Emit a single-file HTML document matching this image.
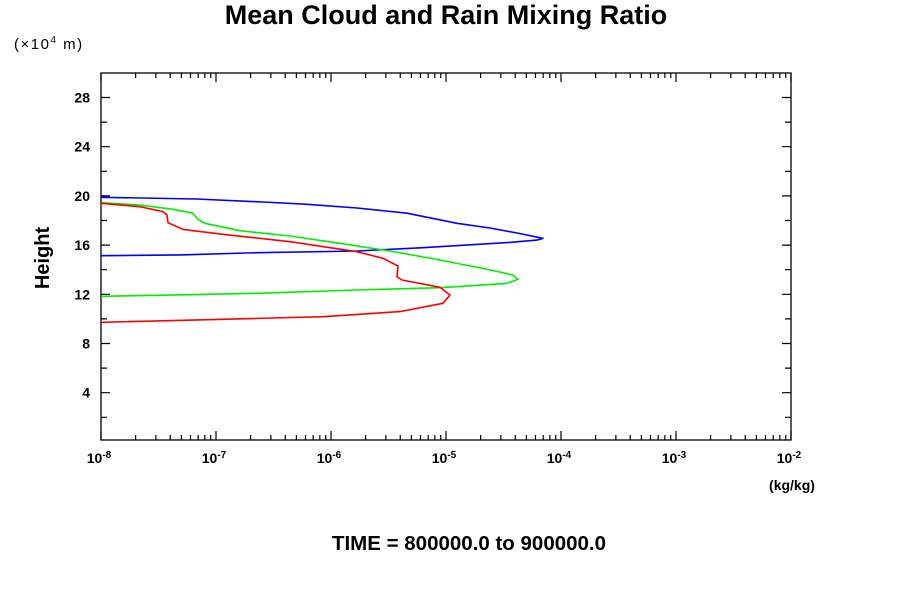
<!DOCTYPE html>
<html><head><meta charset="utf-8"><style>
body{margin:0;background:#fff}
svg{font-family:"Liberation Sans",sans-serif}
</style></head><body>
<svg width="900" height="600" viewBox="0 0 900 600">
<text x="446" y="24" text-anchor="middle" font-size="27" font-weight="bold">Mean Cloud and Rain Mixing Ratio</text>
<text x="14" y="49" font-size="15" letter-spacing="1.5">(×10<tspan dy="-6" font-size="10">4</tspan><tspan dy="6"> m)</tspan></text>
<text x="49" y="258" text-anchor="middle" font-size="20" font-weight="bold" transform="rotate(-90 49 258)">Height</text>
<text x="792" y="490" text-anchor="middle" font-size="14" font-weight="bold">(kg/kg)</text>
<text x="469" y="550" text-anchor="middle" font-size="20.5" font-weight="bold">TIME = 800000.0 to 900000.0</text>
<g id="axes"></g>
<g id="series"></g>
</svg>
<script>
const xDecades=[-8,-7,-6,-5,-4,-3,-2];
const yTicks=[4,8,12,16,20,24,28];
const blueLog=[-8,-7.168,-6.591,-6.209,-5.774,-5.339,-4.904,-4.617,-4.383,-4.157,-4.209,-4.47,-5.2,-5.774,-6.643,-7.313,-8];
const blueH=[19.89,19.75,19.5,19.32,19.02,18.59,17.77,17.39,16.98,16.55,16.41,16.2,15.79,15.52,15.38,15.2,15.14];
const greenLog=[-8,-7.661,-7.374,-7.2,-7.157,-7.096,-6.791,-6.357,-5.922,-5.487,-5.052,-4.617,-4.417,-4.374,-4.47,-5.052,-5.774,-6.643,-7.513,-8];
const greenH=[19.45,19.26,18.91,18.59,18.1,17.77,17.17,16.74,16.15,15.52,14.79,13.98,13.57,13.22,12.89,12.54,12.35,12.08,11.92,11.84];
const redLog=[-8,-7.661,-7.461,-7.426,-7.417,-7.287,-6.939,-6.357,-5.774,-5.548,-5.417,-5.426,-5.383,-5.052,-4.965,-5.026,-5.4,-6.07,-6.939,-8];
const redH=[19.4,19.12,18.72,18.45,17.82,17.28,16.88,16.28,15.46,14.93,14.3,13.43,13.16,12.57,11.94,11.27,10.59,10.18,9.97,9.72];

const L=101,R=791,T=73,B=440;
const xs=v=>L+(v+8)*115;
const ys=h=>441.9-h*12.3;
const NS='http://www.w3.org/2000/svg';
const ax=document.getElementById('axes');
function mk(tag,attrs,parent){const e=document.createElementNS(NS,tag);for(const k in attrs)e.setAttribute(k,attrs[k]);parent.appendChild(e);return e;}
const frame=mk('rect',{x:L,y:T,width:R-L,height:B-T,fill:'none',stroke:'#000','stroke-width':1.3},ax);


let d='';
for(let i=0;i<xDecades.length;i++){
  const dec=xDecades[i];
  const x=xs(dec);
  d+=`M${x},${B}v-9M${x},${T}v9`;
  if(i<xDecades.length-1){for(let m=2;m<10;m++){const xm=xs(dec+Math.log10(m));d+=`M${xm},${B}v-5M${xm},${T}v5`;}}
  const t=mk('text',{x:x-2,y:463,'text-anchor':'middle','font-size':14,'font-weight':'bold'},ax);
  
  
  t.innerHTML=`10<tspan dy="-5" font-size="10">${dec}</tspan>`;
}
for(let h=2;h<30;h+=2){const y=ys(h);const major=h%4===0;d+=`M${L},${y}h${major?9:6}M${R},${y}h-${major?9:6}`;}
yTicks.forEach(h=>{
  const t=mk('text',{x:90,y:ys(h)+5,'text-anchor':'end','font-size':14,'font-weight':'bold'},ax);
  
  
  t.textContent=h;
});
const ticks=mk('path',{d:d,stroke:'#000','stroke-width':1.2,fill:'none'},ax);


const sg=document.getElementById('series');
function line(lx,hy,color,name){
  const pts=lx.map((v,i)=>xs(v).toFixed(1)+','+ys(hy[i]).toFixed(1)).join(' ');
  const p=mk('polyline',{points:pts,fill:'none',stroke:color,'stroke-width':1.6,'stroke-linejoin':'round'},sg);
  
  
}
line(blueLog,blueH,'#0000ff','blue-series');
line(greenLog,greenH,'#00ee00','green-series');
line(redLog,redH,'#ff0000','red-series');
</script>
</body></html>
